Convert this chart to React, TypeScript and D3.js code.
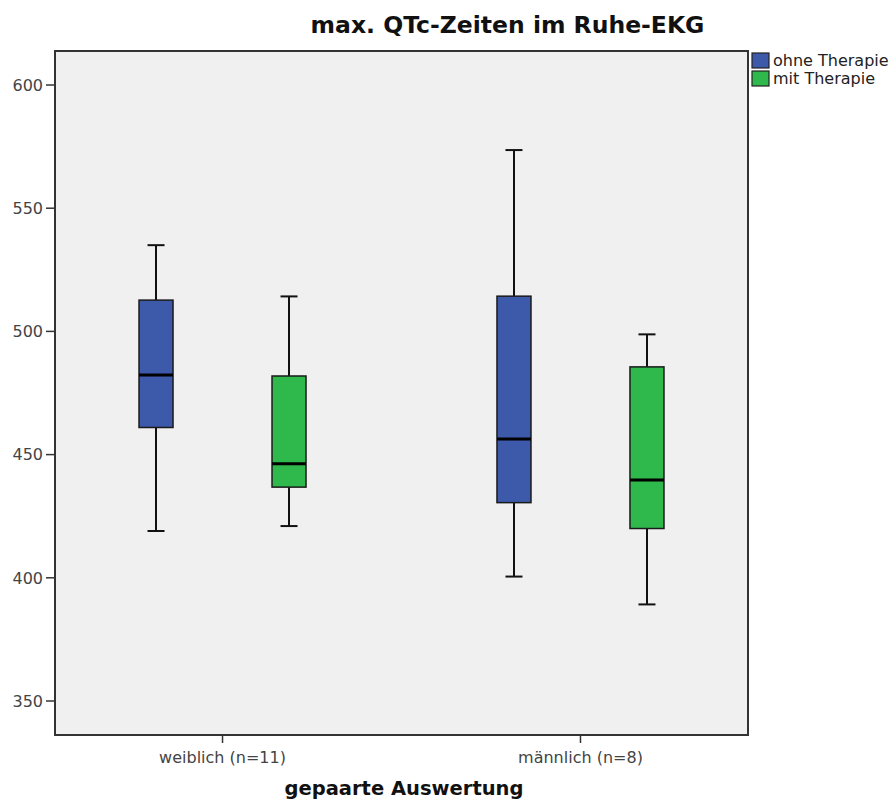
import React from 'react';
import { scaleLinear, scalePoint, scaleOrdinal } from 'd3';

const categories = ['weiblich (n=11)', 'männlich (n=8)'];
const seriesNames = ['ohne Therapie', 'mit Therapie'];
const seriesColors = ['#3d59aa', '#2fb84b'];
const yTicks = [350, 400, 450, 500, 550, 600];

// five number summaries per category (same order as categories)
const ohneMin = [419, 400.5];
const ohneQ1 = [461, 430.5];
const ohneMedian = [482.3, 456.3];
const ohneQ3 = [512.7, 514.3];
const ohneMax = [535, 573.6];

const mitMin = [421, 389.2];
const mitQ1 = [436.8, 420];
const mitMedian = [446.3, 439.7];
const mitQ3 = [481.9, 485.6];
const mitMax = [514.2, 498.8];

const width = 896;
const height = 805;
const plot = { left: 55, right: 748, top: 51, bottom: 735 };

const App = () => {
  const y = scaleLinear().domain([336.2, 613.8]).range([plot.bottom, plot.top]);
  const x = scalePoint().domain(categories).range([plot.left, plot.right]).padding(0.468);
  const inner = scalePoint().domain(seriesNames).range([-66.5, 66.5]);
  const color = scaleOrdinal<string, string>().domain(seriesNames).range(seriesColors);

  const boxes = [
    { s: seriesNames[0], min: ohneMin, q1: ohneQ1, med: ohneMedian, q3: ohneQ3, max: ohneMax },
    { s: seriesNames[1], min: mitMin, q1: mitQ1, med: mitMedian, q3: mitQ3, max: mitMax },
  ].flatMap(d => categories.map((c, i) => ({
    key: d.s + c, s: d.s, cx: (x(c) as number) + (inner(d.s) as number),
    min: d.min[i], q1: d.q1[i], med: d.med[i], q3: d.q3[i], max: d.max[i],
  })));

  const bw = 34;
  const cap = 17;
  const font = '"DejaVu Sans", sans-serif';

  return (
    <svg width={width} height={height} style={{ position: 'absolute', left: 0, top: 0, background: '#fff' }}>
      <rect x={plot.left} y={plot.top} width={plot.right - plot.left} height={plot.bottom - plot.top}
        fill="#f0f0f0" />
      {/* y axis ticks */}
      {yTicks.map(t => (
        <g key={t} transform={`translate(0,${y(t)})`}>
          <line x1={plot.left - 9} x2={plot.left} stroke="#333" strokeWidth={1.5} />
          <text x={plot.left - 12} dy="0.36em" textAnchor="end" fontFamily={font} fontSize={16} fill="#444">{t}</text>
        </g>
      ))}
      {/* x axis ticks */}
      {categories.map(c => (
        <g key={c} transform={`translate(${x(c)},0)`}>
          <line y1={plot.bottom} y2={plot.bottom + 8} stroke="#333" strokeWidth={1.5} />
          <text y={763} textAnchor="middle" fontFamily={font} fontSize={16} fill="#444">{c}</text>
        </g>
      ))}
      {/* boxes */}
      {boxes.map(b => (
        <g key={b.key}>
          <line x1={b.cx} x2={b.cx} y1={y(b.max)} y2={y(b.q3)} stroke="#111" strokeWidth={2} />
          <line x1={b.cx} x2={b.cx} y1={y(b.q1)} y2={y(b.min)} stroke="#111" strokeWidth={2} />
          <line x1={b.cx - cap / 2} x2={b.cx + cap / 2} y1={y(b.max)} y2={y(b.max)} stroke="#111" strokeWidth={2} />
          <line x1={b.cx - cap / 2} x2={b.cx + cap / 2} y1={y(b.min)} y2={y(b.min)} stroke="#111" strokeWidth={2} />
          <rect x={b.cx - bw / 2} y={y(b.q3)} width={bw} height={y(b.q1) - y(b.q3)}
            fill={color(b.s)} stroke="#1a1a1a" strokeWidth={1.5} />
          <line x1={b.cx - bw / 2} x2={b.cx + bw / 2} y1={y(b.med)} y2={y(b.med)} stroke="#000" strokeWidth={3} />
        </g>
      ))}
      <rect x={plot.left} y={plot.top} width={plot.right - plot.left} height={plot.bottom - plot.top}
        fill="none" stroke="#333" strokeWidth={2} />
      {/* legend */}
      {seriesNames.map((s, i) => (
        <g key={s} transform={`translate(752,${53 + i * 18})`}>
          <rect width={17} height={15} fill={color(s)} stroke="#222" strokeWidth={1.2} />
          <text x={21} y={13} fontFamily={font} fontSize={16} fill="#222">{s}</text>
        </g>
      ))}
      <text x={507.5} y={33} textAnchor="middle" fontFamily={font} fontWeight="bold" fontSize={23.5} fill="#111">
        max. QTc-Zeiten im Ruhe-EKG
      </text>
      <text x={404} y={795} textAnchor="middle" fontFamily={font} fontWeight="bold" fontSize={19.5} fill="#111">
        gepaarte Auswertung
      </text>
    </svg>
  );
};

export default App;
